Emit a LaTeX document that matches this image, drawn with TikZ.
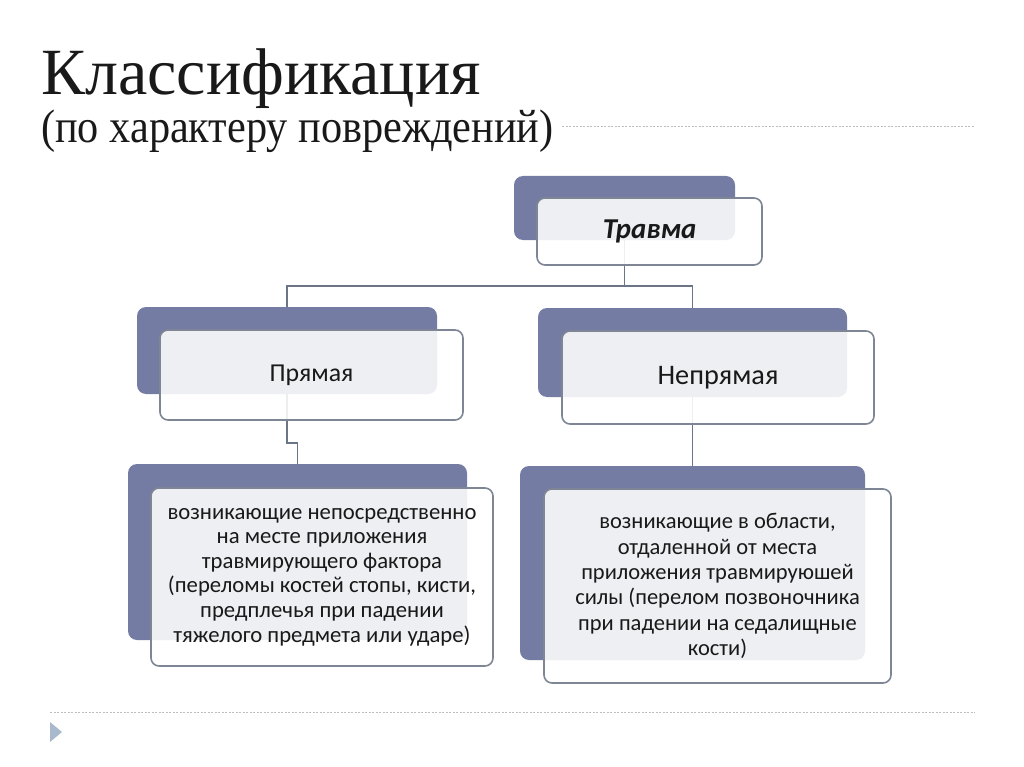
\documentclass[tikz,border=0pt]{standalone}
\usepackage{fontspec}
\setmainfont{Carlito}
\newfontfamily\titlefont{Liberation Serif}
\newfontfamily\subtitlefont[FakeStretch=0.9]{Liberation Serif}
\usepackage{xcolor}
\usetikzlibrary{positioning, calc}

\definecolor{slate}{RGB}{116,124,163}
\definecolor{rim}{RGB}{126,133,148}
\definecolor{wire}{RGB}{108,117,134}
\definecolor{dots}{RGB}{190,190,190}
\definecolor{marker}{RGB}{167,185,202}
\definecolor{ink}{RGB}{25,25,25}

\begin{document}
\begin{tikzpicture}[x=1pt, y=-1pt,
        backbox/.style={rectangle, fill=slate, rounded corners=9pt, inner sep=0pt},
        frontbox/.style={rectangle, draw=rim, line width=1.6pt, fill=white, fill opacity=0.88, text opacity=1, rounded corners=8pt, align=center, text=ink, inner sep=0pt},
        desc/.style={frontbox, font=\fontsize{22.7}{24.6}\selectfont},
        link/.style={draw=wire, line width=1.6pt}
    ]
        \useasboundingbox (0,0) rectangle (1024,767);

        % Title
        \node[anchor=base west, inner sep=0pt, text=ink, font=\titlefont\fontsize{66}{70}\selectfont] (title) at (41,95) {Классификация};
        \node[anchor=base west, inner sep=0pt, text=ink, font=\subtitlefont\fontsize{47}{50}\selectfont] (subtitle) at (41,143) {(по характеру повреждений)};
        \draw[dots, line width=1pt, dash pattern=on 2pt off 1.5pt] (562,127) -- (975,127);
        \draw[dots, line width=1pt, dash pattern=on 2pt off 1.5pt] (50,712) -- (975,712);
        \fill[marker] (50,722) -- (62,732) -- (50,742) -- cycle;

        % Back boxes
        \node[backbox, minimum width=221, minimum height=64] (trauma-bg) at (624.5,208) {};
        \node[backbox, minimum width=300, minimum height=87] (direct-bg) at (287,350.5) {};
        \node[backbox, minimum width=309, minimum height=89] (indirect-bg) at (692.5,352.5) {};
        \node[backbox, minimum width=339, minimum height=176] (directdesc-bg) at (297.5,552) {};
        \node[backbox, minimum width=345, minimum height=194] (indirectdesc-bg) at (692.5,563) {};

        % Connectors
        \coordinate (bus) at (0,286);
        \draw[link] (trauma-bg.south) -- (trauma-bg.south |- bus);
        \draw[link] (direct-bg.north) |- (bus -| trauma-bg.south) -| (indirect-bg.north);
        \draw[link] (direct-bg.south) -- ++(0,49) -| (directdesc-bg.north);
        \draw[link] (indirect-bg.south) -- (indirectdesc-bg.north);

        % Front boxes
        \node[frontbox, minimum width=225, minimum height=67, font=\fontsize{28.8}{32}\selectfont\bfseries\itshape] (trauma) at (649.5,231.5) {Травма};
        \node[frontbox, minimum width=303, minimum height=90, font=\fontsize{25.8}{30}\selectfont] (direct) at (311.5,375) {Прямая};
        \node[frontbox, minimum width=312, minimum height=93, font=\fontsize{28.3}{32}\selectfont] (indirect) at (718,377.5) {Непрямая};
        \node[desc, minimum width=342, minimum height=178] (directdesc) at (322,577) {
            возникающие непосредственно\\
            на месте приложения\\
            травмирующего фактора\\
            (переломы костей стопы, кисти,\\
            предплечья при падении\\
            тяжелого предмета или ударе)
        };
        \node[desc, minimum width=347, minimum height=194, font=\fontsize{22.5}{25.4}\selectfont] (indirectdesc) at (717.5,586) {
            возникающие в области,\\
            отдаленной от места\\
            приложения травмируюшей\\
            силы (перелом позвоночника\\
            при падении на седалищные\\
            кости)
        };

    \end{tikzpicture}
\end{document}
